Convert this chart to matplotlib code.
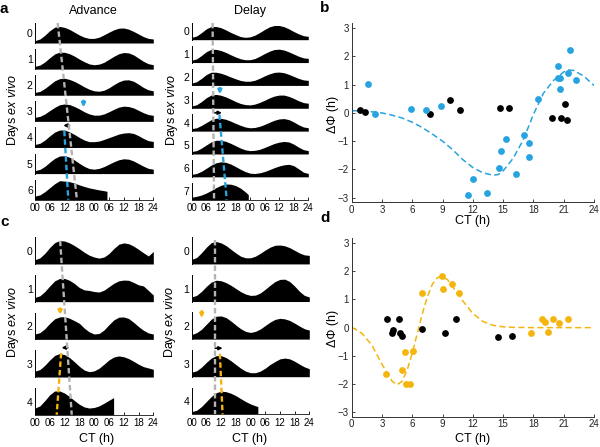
import numpy as np
import matplotlib.pyplot as plt

plt.rcParams['font.family'] = ['Liberation Sans', 'DejaVu Sans']
plt.rcParams['mathtext.fontset'] = 'custom'
plt.rcParams['mathtext.rm'] = 'Liberation Sans'
plt.rcParams['mathtext.it'] = 'Liberation Sans:italic'

W, H = 600, 447
BLUE = '#27a4df'
GOLD = '#f5b50f'
GREY = '#b4b4b4'

# actogram traces: height (fraction of row) sampled every 2 h over the
# double-plotted 48 h; a shorter last row ends at its stop time
HOURS = np.arange(0, 49, 2)

adv_a = [
    [.12, .20, .39, .62, .79, .83, .78, .68, .54, .40, .29, .23, .23, .29, .41, .54, .66, .74, .75, .69, .58, .45, .32, .23, .20],
    [.14, .20, .36, .57, .76, .85, .84, .77, .65, .50, .37, .26, .22, .25, .34, .49, .64, .77, .83, .81, .71, .55, .39, .27, .22],
    [.14, .19, .34, .53, .72, .83, .85, .79, .69, .56, .42, .30, .22, .20, .25, .37, .53, .67, .76, .77, .70, .55, .39, .27, .22],
    [.20, .25, .37, .54, .70, .83, .87, .84, .74, .62, .48, .37, .31, .31, .37, .48, .60, .71, .76, .74, .67, .55, .43, .34, .30],
    [.15, .21, .37, .58, .77, .87, .87, .78, .65, .50, .37, .29, .29, .32, .40, .49, .58, .67, .72, .74, .70, .59, .45, .34, .30],
    [.15, .21, .36, .57, .76, .88, .89, .82, .68, .51, .36, .25, .22, .26, .35, .47, .59, .69, .74, .72, .63, .50, .37, .26, .22],
    [.18, .24, .40, .60, .80, .95, .93, .90, .83, .74, .66, .59, .54, .49, .45, .42],
]
adv_a_stop = 29.2

delay_a = [
    [.14, .22, .42, .65, .79, .79, .72, .59, .44, .31, .19, .14, .17, .27, .43, .61, .77, .85, .85, .78, .65, .49, .35, .24, .20],
    [.14, .22, .42, .65, .79, .79, .72, .61, .47, .34, .23, .17, .17, .24, .38, .54, .68, .78, .80, .75, .64, .51, .38, .28, .25],
    [.14, .22, .42, .65, .79, .79, .73, .63, .51, .40, .30, .25, .25, .31, .43, .57, .69, .78, .80, .76, .66, .54, .42, .33, .30],
    [.14, .21, .40, .63, .79, .83, .78, .68, .55, .41, .29, .22, .20, .25, .35, .48, .62, .73, .79, .79, .71, .59, .45, .34, .30],
    [.15, .20, .34, .51, .68, .77, .77, .71, .60, .47, .35, .25, .20, .22, .29, .40, .53, .65, .73, .75, .69, .55, .38, .25, .20],
    [.15, .20, .35, .54, .72, .82, .82, .76, .64, .50, .36, .25, .20, .22, .28, .39, .51, .63, .71, .75, .72, .59, .41, .26, .20],
    [.15, .20, .33, .51, .70, .84, .90, .87, .77, .62, .46, .32, .22, .20, .24, .32, .43, .55, .65, .72, .75, .67, .48, .28, .20],
    [.15, .20, .28, .40, .55, .72, .86, .94, .93, .85, .70, .48, .30],
]
delay_a_stop = 23.3

adv_c = [
    [.16, .23, .40, .62, .80, .88, .86, .79, .69, .57, .44, .33, .26, .22, .26, .39, .58, .74, .79, .76, .67, .55, .42, .30, .47],
    [.16, .22, .38, .59, .78, .87, .87, .80, .68, .53, .44, .42, .38, .36, .43, .56, .69, .78, .81, .80, .72, .63, .59, .42, .25],
    [.20, .25, .40, .60, .77, .84, .85, .79, .70, .60, .42, .28, .20, .22, .35, .55, .73, .83, .84, .78, .64, .48, .34, .24, .20],
    [.22, .28, .44, .64, .81, .88, .84, .73, .57, .40, .26, .20, .23, .33, .48, .64, .75, .79, .76, .69, .59, .48, .39, .34, .29],
    [.25, .33, .53, .75, .89, .89, .81, .68, .53, .39, .29, .25, .27, .33, .43, .54, .64],
]
adv_c_stop = 31.9

delay_c = [
    [.17, .24, .42, .63, .80, .84, .79, .69, .55, .41, .29, .23, .23, .29, .40, .52, .63, .70, .71, .68, .61, .51, .41, .34, .32],
    [.17, .23, .38, .57, .73, .80, .78, .71, .61, .49, .37, .28, .23, .24, .32, .46, .61, .75, .83, .84, .75, .58, .38, .23, .17],
    [.17, .24, .37, .56, .75, .86, .87, .81, .68, .53, .39, .29, .25, .29, .38, .51, .64, .74, .78, .76, .70, .60, .49, .39, .34],
    [.17, .22, .36, .54, .70, .79, .79, .72, .60, .46, .32, .21, .15, .15, .21, .32, .46, .57, .67, .70, .67, .58, .47, .37, .30],
    [.10, .15, .29, .48, .67, .81, .87, .85, .79, .70, .59, .48, .39, .32, .29],
]
delay_c_stop = 27.0

# phase marker lines: (t_start, row_start, frac_start, t_end, row_end, frac_end)
adv_a_lines = [((9.2, 0, 1.0, 17.0, 6, 0.0), GREY), ((11.9, 4, 0.83, 13.5, 6, 0.0), BLUE)]
delay_a_lines = [((8.6, 0, 1.0, 9.2, 7, 0.0), GREY), ((11.4, 4, 1.0, 14.4, 7, 0.0), BLUE)]
adv_c_lines = [((10.2, 0, 0.87, 14.9, 4, 0.0), GREY), ((10.6, 3, 0.9, 8.8, 4, 0.0), GOLD)]
delay_c_lines = [((9.6, 0, 0.91, 9.6, 4, 0.0), GREY), ((11.5, 3, 0.86, 12.6, 4, 0.0), GOLD)]

# shift arrows (t_from, t_to, row, frac) and pulse arrows (t, row, frac_top, frac_bottom)
shift_arrows = [(14.0, 11.5, 4, 1.1), (9.4, 12.4, 4, 1.1), (13.3, 10.8, 3, 1.1), (9.6, 12.6, 3, 1.07)]
pulse_arrows = [(19.7, 3, 1.03, 0.70), (11.6, 3, 1.2, 0.84), (10.2, 2, 1.15, 0.92), (4.1, 2, 1.05, 0.79)]

# phase response data
b_blue_ct = [1.6, 2.3, 5.9, 7.4, 8.85, 11.55, 12.05, 13.37, 14.63, 14.79, 15.29, 16.24, 17.07, 17.6, 17.53,
             18.49, 20.4, 20.4, 20.63, 20.63, 21.39, 21.62, 22.19]
b_blue_dphi = [1.02, -0.05, 0.15, 0.12, 0.23, -2.9, -2.32, -2.82, -1.93, -1.34, -0.92, -2.17, -0.77, -1.08, -1.55,
               0.5, 1.67, 1.25, 1.22, 0.86, 1.4, 2.23, 1.18]
b_black_ct = [0.83, 1.35, 7.76, 9.74, 10.73, 14.69, 15.62, 19.87, 20.73, 21.13, 21.29]
b_black_dphi = [0.11, 0.05, -0.05, 0.45, 0.12, 0.17, 0.17, -0.17, -0.17, 0.3, -0.24]
b_fit_ct = [0, 1, 2, 3, 4, 5, 6, 7, 8, 9, 10, 11, 12, 13, 14, 14.5, 15, 16, 17, 18, 19, 20, 21, 21.5, 22, 23, 24]
b_fit_dphi = [0.08, 0.07, 0.04, 0.0, -0.08, -0.18, -0.33, -0.52, -0.75, -1.0, -1.3, -1.65, -1.93, -2.12, -2.2,
              -2.18, -2.05, -1.6, -0.95, -0.05, 0.7, 1.15, 1.45, 1.52, 1.5, 1.3, 0.97]

d_gold_ct = [3.4, 5.28, 4.95, 5.38, 5.78, 6.11, 6.93, 8.98, 9.08, 9.97, 10.63,
             17.76, 18.82, 19.15, 19.48, 19.91, 20.57, 21.39]
d_gold_dphi = [-1.64, -0.85, -1.52, -1.99, -1.99, -0.82, 1.24, 1.84, 1.36, 1.56, 1.24,
               -0.18, 0.29, 0.21, -0.14, 0.31, 0.15, 0.31]
d_black_ct = [3.47, 4.06, 4.03, 4.69, 4.79, 4.95, 7.0, 9.24, 10.3, 14.53, 15.85]
d_black_dphi = [0.31, -0.08, -0.18, 0.29, -0.2, -0.28, -0.05, -0.18, 0.31, -0.32, -0.28]
d_fit_ct = [0, 1, 2, 3, 4, 4.5, 5, 5.5, 6, 6.5, 7, 7.5, 8, 8.5, 9, 9.5, 10, 11, 12, 13, 14, 15, 16, 18, 24]
d_fit_dphi = [0.02, -0.2, -0.62, -1.3, -1.9, -2.03, -1.9, -1.5, -0.9, -0.2, 0.5, 1.1, 1.55, 1.78, 1.8, 1.7,
              1.45, 0.95, 0.5, 0.22, 0.08, 0.03, 0.01, 0.0, 0.0]

ACTO_TICKS = ['00', '06', '12', '18', '00', '06', '12', '18', '24']


def px_axes(fig, x0, y0, x1, y1):
    return fig.add_axes([x0 / W, 1 - y1 / H, (x1 - x0) / W, (y1 - y0) / H])


def actogram(ax, rows, stop, spacing, lines, shift, pulse, color):
    for i, vals in enumerate(rows):
        base = -i * spacing
        if len(vals) == len(HOURS):
            t = HOURS
        else:
            t = np.append(HOURS[:len(vals) - 1], stop)
        ax.fill_between(t, base, base + np.array(vals), color='k', lw=0)
        ax.plot([0, 0], [base, base + 1], color='k', lw=0.7, clip_on=False)
        ax.text(-0.9, base + 0.45, str(i), ha='right', va='center', fontsize=7.5)
    for (t0, r0, f0, t1, r1, f1), c in lines:
        ax.plot([t0, t1], [-r0 * spacing + f0, -r1 * spacing + f1], color=c, lw=1.7,
                dashes=(2.3, 1.3), zorder=4, clip_on=False)
    t0, t1, r, f = shift
    ax.annotate('', xy=(t1, -r * spacing + f), xytext=(t0, -r * spacing + f),
                arrowprops=dict(arrowstyle='-|>', color='k', lw=1.2, mutation_scale=5,
                                shrinkA=0, shrinkB=0), annotation_clip=False)
    t, r, ftop, fbot = pulse
    ax.annotate('', xy=(t, -r * spacing + fbot), xytext=(t, -r * spacing + ftop),
                arrowprops=dict(arrowstyle='-|>', color=color, lw=1.8, mutation_scale=5,
                                shrinkA=0, shrinkB=0), annotation_clip=False)
    ax.set_xlim(0, 48)
    ax.set_ylim(-(len(rows) - 1) * spacing, 1)
    for s in ['top', 'right', 'left']:
        ax.spines[s].set_visible(False)
    ax.spines['bottom'].set_linewidth(0.7)
    ax.spines['bottom'].set_color('#333333')
    ax.set_yticks([])
    ax.set_xticks(range(0, 49, 6))
    ax.set_xticklabels(ACTO_TICKS)
    ax.tick_params(axis='x', direction='in', length=2, width=0.6, labelsize=7, pad=2.5)
    ax.patch.set_alpha(0)


def prc(ax, black_ct, black_dphi, col_ct, col_dphi, fit_ct, fit_dphi, color):
    ax.plot(fit_ct, fit_dphi, color=color, lw=1.1, dashes=(4, 2.2), zorder=2)
    ax.scatter(black_ct, black_dphi, s=24, color='k', lw=0, zorder=3, clip_on=False)
    ax.scatter(col_ct, col_dphi, s=24, color=color, lw=0, zorder=3, clip_on=False)
    ax.set_xlim(0, 24)
    ax.set_ylim(-3.16, 3.18)
    ax.set_xticks(range(0, 25, 3))
    ax.set_yticks(range(-3, 4))
    for s in ['top', 'right']:
        ax.spines[s].set_visible(False)
    for s in ['left', 'bottom']:
        ax.spines[s].set_linewidth(0.7)
        ax.spines[s].set_color('#333333')
    ax.tick_params(direction='in', length=2.5, width=0.6, labelsize=7, pad=2, colors='#222222')
    ax.patch.set_alpha(0)


fig = plt.figure(figsize=(W / 100, H / 100), dpi=100)

ax = px_axes(fig, 35, 23, 153.3, 199.7)
actogram(ax, adv_a, adv_a_stop, 1.305, adv_a_lines, shift_arrows[0], pulse_arrows[0], BLUE)
ax = px_axes(fig, 191.7, 23, 308.3, 199.7)
actogram(ax, delay_a, delay_a_stop, 1.369, delay_a_lines, shift_arrows[1], pulse_arrows[1], BLUE)
ax = px_axes(fig, 35, 237.3, 153.3, 414.7)
actogram(ax, adv_c, adv_c_stop, 1.412, adv_c_lines, shift_arrows[2], pulse_arrows[2], GOLD)
ax = px_axes(fig, 191.7, 237.3, 309.3, 414.3)
actogram(ax, delay_c, delay_c_stop, 1.412, delay_c_lines, shift_arrows[3], pulse_arrows[3], GOLD)

ax = px_axes(fig, 351.7, 23, 594, 202.3)
prc(ax, b_black_ct, b_black_dphi, b_blue_ct, b_blue_dphi, b_fit_ct, b_fit_dphi, BLUE)
ax = px_axes(fig, 351.7, 238, 594, 416.7)
prc(ax, d_black_ct, d_black_dphi, d_gold_ct, d_gold_dphi, d_fit_ct, d_fit_dphi, GOLD)


def ftext(x, y, s, **kw):
    fig.text(x / W, 1 - y / H, s, **kw)


for x, y, s in [(0, 13, 'a'), (320, 12, 'b'), (0, 226, 'c'), (320, 222, 'd')]:
    ftext(x, y, s, fontsize=11, fontweight='bold', va='baseline')
ftext(93, 11, 'Advance', fontsize=9, ha='center', va='center')
ftext(250, 11, 'Delay', fontsize=9, ha='center', va='center')
for x, y in [(13, 110), (172, 110), (13, 322), (170, 322)]:
    ftext(x, y, r'Days $\mathit{ex\ vivo}$', fontsize=9, rotation=90, ha='center', va='center')
for x, y in [(97, 439), (250, 439), (473, 221.5), (473, 439)]:
    ftext(x, y, 'CT (h)', fontsize=9, ha='center', va='center')
for x, y in [(333, 114), (333, 328)]:
    ftext(x, y, 'ΔΦ (h)', fontsize=9, rotation=90, ha='center', va='center')

fig.savefig('out.png', dpi=100)
